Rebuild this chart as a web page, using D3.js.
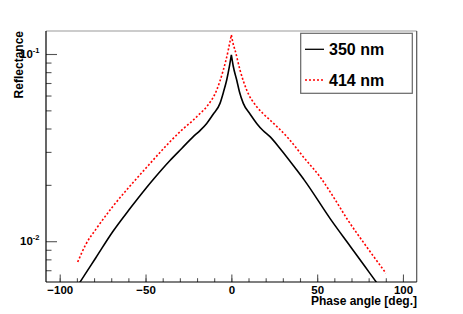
<!DOCTYPE html>
<html>
<head>
<meta charset="utf-8">
<script src="https://cdn.jsdelivr.net/npm/d3@7"></script>
<style>
  html, body { margin: 0; padding: 0; background: #fff; }
  svg { display: block; font-family: "Liberation Sans", Arial, Helvetica, sans-serif; font-weight: bold; }
</style>
</head>
<body>
<svg id="chart" width="463" height="314"></svg>
<script>
// ---- data ----
const angles350 = [-90.0,-88.01,-78.87,-69.14,-59.05,-49.73,-44.9,-35.75,-28.93,-22.17,-18.27,-14.36,-10.69,-6.61,-4.57,-2.71,-1.08,0,
                   1.08,3.12,4.75,6.96,10.87,14.77,18.44,22.52,28.35,37.67,42.51,58.07,69.14,77.87,84.28,90.1];
const refl350 = [0.00569,0.00608,0.00819,0.01124,0.01495,0.0192,0.0217,0.0270,0.0313,0.0362,0.0390,0.0426,0.0475,0.0545,0.0627,0.0726,0.0863,0.0988,
                 0.0863,0.0726,0.0627,0.0545,0.0478,0.0426,0.0390,0.0362,0.0313,0.0243,0.0212,0.0130,0.00943,0.00732,0.00608,0.00513];
const angles414 = [-89.53,-84.69,-78.87,-69.14,-59.46,-49.73,-40.0,-35.75,-28.93,-22.17,-18.27,-14.36,-8.54,-4.69,-1.78,-1.08,0,
                   1.08,2.13,5.04,8.94,14.77,18.44,22.52,33.18,42.51,52.24,60.4,67.8,77.87,90.1];
const refl414 = [0.00774,0.00966,0.0116,0.0153,0.0195,0.0246,0.0309,0.0340,0.0392,0.0444,0.0481,0.0523,0.0642,0.0821,0.1050,0.1131,0.1263,
                 0.1131,0.1050,0.0821,0.0642,0.0523,0.0481,0.0444,0.0355,0.0278,0.0217,0.0167,0.0130,0.00960,0.00674];
const seriesNames = ["350 nm", "414 nm"];
const xMajorTicks = [-100, -50, 0, 50, 100];
const xMinorTicks = [-100,-90,-80,-70,-60,-50,-40,-30,-20,-10,0,10,20,30,40,50,60,70,80,90,100];
const yMajorTicks = [0.01, 0.1];
const yMinorTicks = [0.007,0.008,0.009,0.02,0.03,0.04,0.05,0.06,0.07,0.08,0.09];
const yTickExponents = ["-2", "-1"];
const xTitle = "Phase angle [deg.]";
const yTitle = "Reflectance";

// ---- layout ----
const L = 46, R = 416.7, T = 31, B = 282;
const svg = d3.select("#chart");
const x = d3.scaleLinear().domain([-108, 108]).range([L, R]);
const y = d3.scaleLog().domain([0.006055, 0.1327]).range([B, T]);

svg.append("defs").append("clipPath").attr("id", "clip")
  .append("rect").attr("x", L).attr("y", T).attr("width", R - L).attr("height", B - T);

// frame top / right
svg.append("line").attr("x1", L).attr("x2", R).attr("y1", T).attr("y2", T)
  .attr("stroke", "#999").attr("stroke-width", 1.2);
svg.append("line").attr("x1", R).attr("x2", R).attr("y1", T).attr("y2", B)
  .attr("stroke", "#555").attr("stroke-width", 1.2);

// x axis
const gxMinor = svg.append("g").attr("transform", `translate(0,${B})`)
  .call(d3.axisBottom(x).tickValues(xMinorTicks).tickSize(-3.8).tickFormat(""));
const gx = svg.append("g").attr("transform", `translate(0,${B})`)
  .call(d3.axisBottom(x).tickValues(xMajorTicks).tickSize(-7.5).tickPadding(3.5).tickFormat(d3.format("d")));
[gxMinor, gx].forEach(g => {
  g.select(".domain").remove();
  g.selectAll(".tick line").attr("stroke", "#555").attr("stroke-width", 1.1);
});
gx.selectAll(".tick text").attr("font-size", 11.5).attr("font-weight", "bold")
  .attr("font-family", "Liberation Sans, Arial, sans-serif").attr("fill", "#000");
svg.append("line").attr("x1", L).attr("x2", R).attr("y1", B).attr("y2", B)
  .attr("stroke", "#000").attr("stroke-width", 1.2);

// y axis
const gyMinor = svg.append("g").attr("transform", `translate(${L},0)`)
  .call(d3.axisLeft(y).tickValues(yMinorTicks).tickSize(-5.5).tickFormat(""));
const gy = svg.append("g").attr("transform", `translate(${L},0)`)
  .call(d3.axisLeft(y).tickValues(yMajorTicks).tickSize(-11).tickPadding(6.5).tickFormat(""));
[gyMinor, gy].forEach(g => {
  g.select(".domain").remove();
  g.selectAll(".tick line").attr("stroke", "#555").attr("stroke-width", 1.1);
});
gy.selectAll(".tick text").each(function(d, i) {
  const t = d3.select(this).attr("font-size", 11.5).attr("fill", "#000");
  t.text(null);
  t.append("tspan").text("10");
  t.append("tspan").attr("font-size", 7.5).attr("dy", "-5").text(yTickExponents[i]);
});
svg.append("line").attr("x1", L).attr("x2", L).attr("y1", T).attr("y2", B)
  .attr("stroke", "#000").attr("stroke-width", 1.2);

// titles
svg.append("text").attr("x", 417).attr("y", 305).attr("text-anchor", "end")
  .attr("font-size", 12).text(xTitle);
svg.append("text").attr("transform", "translate(23,31) rotate(-90)").attr("text-anchor", "end")
  .attr("font-size", 12).text(yTitle);

// curves: each drawn as two smooth halves meeting in a cusp at 0 deg
const line = d3.line().x(d => x(d[0])).y(d => y(d[1])).curve(d3.curveMonotoneX);
function cuspPath(angles, vals) {
  const pts = angles.map((a, i) => [a, vals[i]]);
  const left = pts.filter(p => p[0] <= 0);
  const right = pts.filter(p => p[0] >= 0);
  return line(left) + line(right);
}
const plot = svg.append("g").attr("clip-path", "url(#clip)");
plot.append("path").attr("d", cuspPath(angles350, refl350))
  .attr("fill", "none").attr("stroke", "#000").attr("stroke-width", 1.6)
  .attr("stroke-linejoin", "round");
plot.append("path").attr("d", cuspPath(angles414, refl414))
  .attr("fill", "none").attr("stroke", "#ff0000").attr("stroke-width", 1.6)
  .attr("stroke-dasharray", "2,2");

// legend
const lg = svg.append("g");
lg.append("rect").attr("x", 300.7).attr("y", 33.3).attr("width", 111.6).attr("height", 60)
  .attr("fill", "#fff").attr("stroke", "#666").attr("stroke-width", 1.2);
const legendRows = [
  {name: seriesNames[0], y: 49.3, color: "#000", dash: null},
  {name: seriesNames[1], y: 80, color: "#ff0000", dash: "2,2"}
];
legendRows.forEach(r => {
  lg.append("line").attr("x1", 305).attr("x2", 324).attr("y1", r.y).attr("y2", r.y)
    .attr("stroke", r.color).attr("stroke-width", 1.3).attr("stroke-dasharray", r.dash);
  lg.append("text").attr("x", 329).attr("y", r.y + 6).attr("font-size", 16).text(r.name);
});
</script>
</body>
</html>
